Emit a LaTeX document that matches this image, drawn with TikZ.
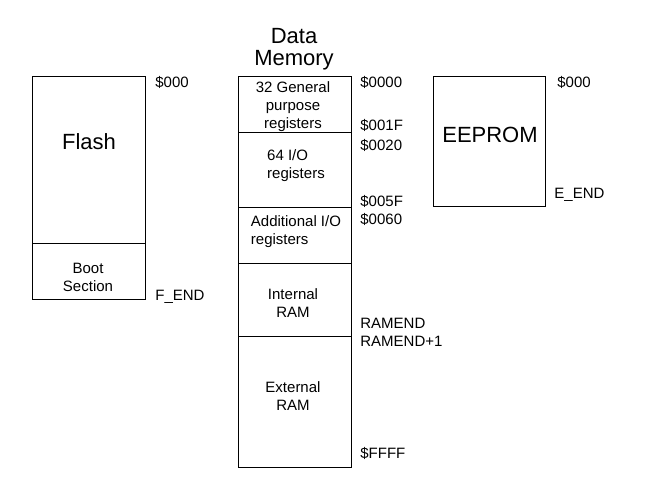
\documentclass[tikz,border=0pt]{standalone}
\usepackage{fontspec}
\setmainfont{Liberation Sans}

\begin{document}
\begin{tikzpicture}[x=1pt,y=-1pt,line width=0.8pt,
  addr/.style={anchor=west,inner sep=0pt,font=\fontsize{15}{18}\selectfont,text height=11pt,text depth=0pt},
  part/.style={inner sep=0pt,align=center,font=\fontsize{15}{18}\selectfont},
  big/.style={inner sep=0pt,align=center,font=\fontsize{22}{22}\selectfont}]

\useasboundingbox (0,0) rectangle (656,494);

% Flash
\draw (32,76) rectangle (145,299);
\draw (32,243) -- (145,243);
\node[big] (flash) at (89,142) {Flash};
\node[part] (boot) at (88,277) {Boot\\Section};
\node[addr] (fstart) at (155,82) {\$000};
\node[addr] (fend) at (155,295) {F\_END};

% Data memory
\node[big] (title) at (294,49) {Data\\Memory};
\draw (238,76) rectangle (351,467);
\draw (238,132) -- (351,132);
\draw (238,207) -- (351,207);
\draw (238,263) -- (351,263);
\draw (238,336) -- (351,336);
\node[part] (gpr) at (293,107) {32 General\\purpose\\registers};
\node[part,align=left] (io) at (296,166) {64 I/O\\registers};
\node[part,align=left] (extio) at (296,232) {Additional I/O\\registers};
\node[part] (iram) at (293,303) {Internal\\RAM};
\node[part] (xram) at (293,396) {External\\RAM};

\node[addr] (a0000) at (360,82) {\$0000};
\node[addr] (a001f) at (360,125) {\$001F};
\node[addr] (a0020) at (360,145) {\$0020};
\node[addr] (a005f) at (360,201) {\$005F};
\node[addr] (a0060) at (360,219) {\$0060};
\node[addr] (ramend) at (360,323) {RAMEND};
\node[addr] (ramend1) at (360,341) {RAMEND+1};
\node[addr] (affff) at (360,453) {\$FFFF};

% EEPROM
\draw (433,76) rectangle (545,206);
\node[big] (eeprom) at (490,135) {EEPROM};
\node[addr] (estart) at (557,82) {\$000};
\node[addr] (eend) at (554,193) {E\_END};

\end{tikzpicture}
\end{document}
